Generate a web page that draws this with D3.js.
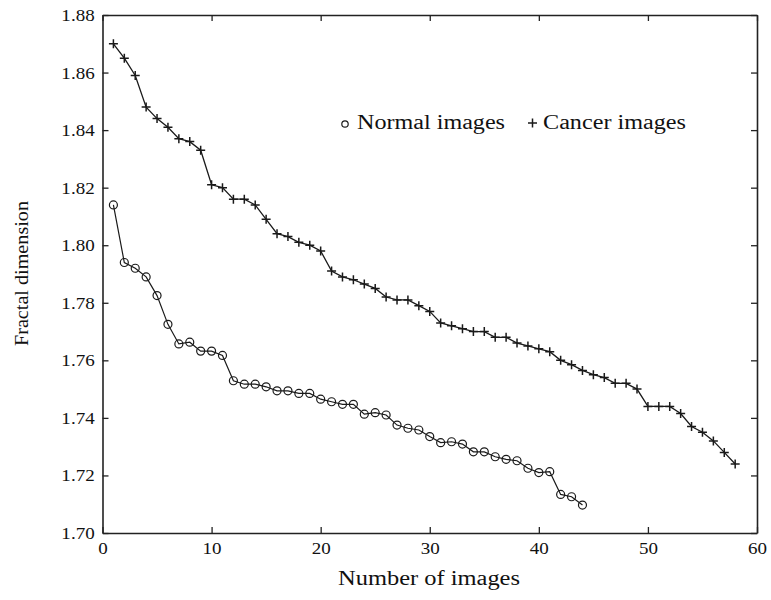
<!DOCTYPE html>
<html>
<head>
<meta charset="utf-8">
<script src="https://cdn.jsdelivr.net/npm/d3@7"></script>
<style>
  html, body { margin: 0; padding: 0; background: #fff; }
  svg { display: block; }
  text { font-family: "Liberation Serif", "Times New Roman", serif; fill: #111; }
</style>
</head>
<body>
<svg id="chart" width="771" height="600"></svg>
<script>
// Fractal dimension of images, sorted in decreasing order
const normalValues = [
  1.814, 1.794, 1.792, 1.789, 1.7825, 1.7725, 1.7657, 1.7663, 1.7632, 1.7632,
  1.7617, 1.7529, 1.7517, 1.7517, 1.7508, 1.7494, 1.7494, 1.7485, 1.7485, 1.7465,
  1.7456, 1.7447, 1.7447, 1.7413, 1.7418, 1.7410, 1.7375, 1.7364, 1.7358, 1.7335,
  1.7314, 1.7317, 1.7309, 1.7282, 1.7282, 1.7265, 1.7256, 1.7251, 1.7225, 1.7210,
  1.7213, 1.7134, 1.7126, 1.7097
];
const cancerValues = [
  1.870, 1.865, 1.859, 1.848, 1.844, 1.841, 1.837, 1.836, 1.833, 1.821,
  1.820, 1.816, 1.816, 1.814, 1.809, 1.804, 1.803, 1.801, 1.800, 1.798,
  1.791, 1.789, 1.788, 1.7865, 1.785, 1.782, 1.781, 1.781, 1.779, 1.777,
  1.773, 1.772, 1.771, 1.770, 1.770, 1.768, 1.768, 1.766, 1.765, 1.764,
  1.763, 1.760, 1.7585, 1.7565, 1.755, 1.754, 1.752, 1.752, 1.750, 1.744,
  1.744, 1.744, 1.7415, 1.737, 1.735, 1.732, 1.728, 1.724
];
const xTicks = [0, 10, 20, 30, 40, 50, 60];
const yTicks = [1.70, 1.72, 1.74, 1.76, 1.78, 1.80, 1.82, 1.84, 1.86, 1.88];
const xTitle = "Number of images";
const yTitle = "Fractal dimension";
const legendNormal = "Normal images";
const legendCancer = "Cancer images";

const svg = d3.select("#chart");
const plotLeft = 102.5, plotRight = 757, plotTop = 15, plotBottom = 533;

const x = d3.scaleLinear().domain([0, 60]).range([plotLeft, plotRight]);
const y = d3.scaleLinear().domain([1.70, 1.88]).range([plotBottom, plotTop]);

const axisColor = "#222";
const stretch = "scale(1.12,1)";

// frame with inward ticks on all four sides
function styleAxis(g) {
  g.selectAll("path.domain").attr("stroke", axisColor).attr("stroke-width", 1.6);
  g.selectAll(".tick line").attr("stroke", axisColor).attr("stroke-width", 1.3);
  g.selectAll(".tick text")
    .attr("font-size", 17)
    .attr("font-family", "Liberation Serif, serif")
    .attr("fill", "#111");
}

svg.append("g")
  .attr("transform", `translate(0,${plotBottom})`)
  .call(d3.axisBottom(x).tickValues(xTicks).tickSizeInner(-6).tickSizeOuter(0)
        .tickPadding(9).tickFormat(d3.format("d")))
  .call(styleAxis)
  .call(g => g.selectAll(".tick text").attr("transform", stretch));

svg.append("g")
  .attr("transform", `translate(0,${plotTop})`)
  .call(d3.axisTop(x).tickValues(xTicks).tickSizeInner(-6).tickSizeOuter(0).tickFormat(""))
  .call(styleAxis);

svg.append("g")
  .attr("transform", `translate(${plotLeft},0)`)
  .call(d3.axisLeft(y).tickValues(yTicks).tickSizeInner(-6).tickSizeOuter(0)
        .tickPadding(7).tickFormat(d3.format(".2f")))
  .call(styleAxis)
  .call(g => g.selectAll(".tick text").attr("transform", stretch));

svg.append("g")
  .attr("transform", `translate(${plotRight},0)`)
  .call(d3.axisRight(y).tickValues(yTicks).tickSizeInner(-6).tickSizeOuter(0).tickFormat(""))
  .call(styleAxis);

// series lines
const line = d3.line().x((d, i) => x(i + 1)).y(d => y(d));

svg.append("path")
  .datum(normalValues)
  .attr("d", line)
  .attr("fill", "none")
  .attr("stroke", "#1a1a1a")
  .attr("stroke-width", 1.2);

svg.append("path")
  .datum(cancerValues)
  .attr("d", line)
  .attr("fill", "none")
  .attr("stroke", "#1a1a1a")
  .attr("stroke-width", 1.3);

// circle markers for normal images
svg.append("g")
  .selectAll("circle")
  .data(normalValues)
  .join("circle")
  .attr("cx", (d, i) => x(i + 1))
  .attr("cy", d => y(d))
  .attr("r", 4)
  .attr("fill", "none")
  .attr("stroke", "#1a1a1a")
  .attr("stroke-width", 1.2);

// plus markers for cancer images
function plusPath(cx, cy, s) {
  return `M${cx - s},${cy}H${cx + s}M${cx},${cy - s}V${cy + s}`;
}
svg.append("g")
  .selectAll("path")
  .data(cancerValues)
  .join("path")
  .attr("d", (d, i) => plusPath(x(i + 1), y(d), 4.5))
  .attr("fill", "none")
  .attr("stroke", "#1a1a1a")
  .attr("stroke-width", 1.5);

// legend
const legend = svg.append("g");
legend.append("circle")
  .attr("cx", 345).attr("cy", 124).attr("r", 3.2)
  .attr("fill", "none").attr("stroke", "#1a1a1a").attr("stroke-width", 1.2);
legend.append("text")
  .attr("x", 357).attr("y", 129)
  .attr("font-size", 20)
  .attr("textLength", 148).attr("lengthAdjust", "spacingAndGlyphs")
  .text(legendNormal);
legend.append("path")
  .attr("d", plusPath(532.5, 123, 4.5))
  .attr("stroke", "#1a1a1a").attr("stroke-width", 1.5);
legend.append("text")
  .attr("x", 543).attr("y", 129)
  .attr("font-size", 20)
  .attr("textLength", 143).attr("lengthAdjust", "spacingAndGlyphs")
  .text(legendCancer);

// axis titles
svg.append("text")
  .attr("x", 338).attr("y", 585)
  .attr("font-size", 20)
  .attr("textLength", 182).attr("lengthAdjust", "spacingAndGlyphs")
  .text(xTitle);

svg.append("text")
  .attr("transform", "translate(28,346) rotate(-90)")
  .attr("font-size", 19)
  .attr("textLength", 145).attr("lengthAdjust", "spacingAndGlyphs")
  .text(yTitle);
</script>
</body>
</html>
